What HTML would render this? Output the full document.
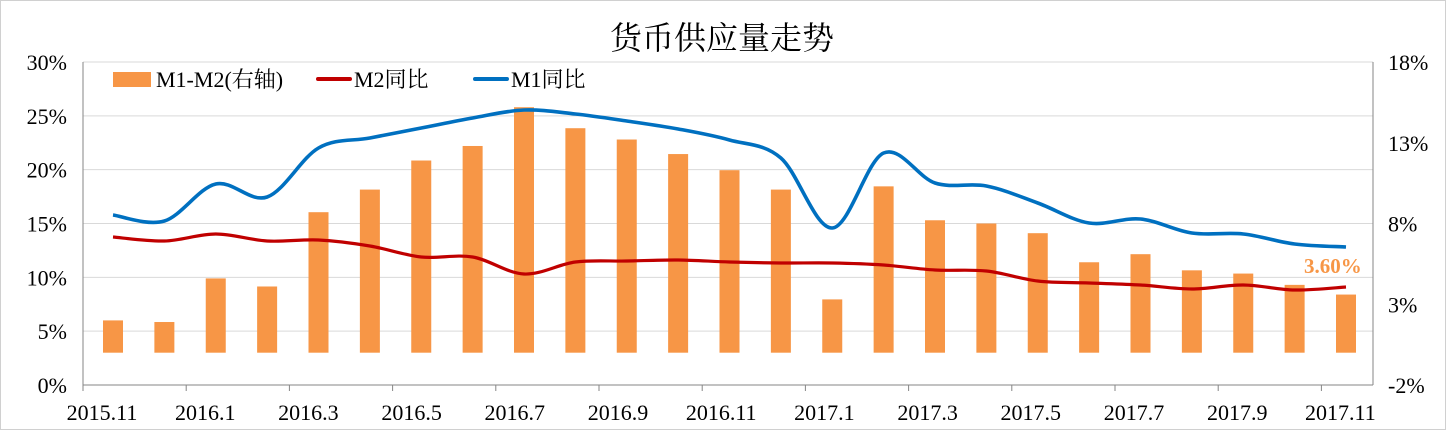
<!DOCTYPE html>
<html><head><meta charset="utf-8"><style>
html,body{margin:0;padding:0;background:#fff}
svg{display:block}
text{font-family:"Liberation Serif","Noto Serif CJK SC",serif;fill:#000}
</style></head><body>
<svg id="s" width="1446" height="430" xmlns="http://www.w3.org/2000/svg">
<rect x="0.5" y="0.5" width="1445" height="429" fill="#fff" stroke="#d0d0d0"/>
<text x="722" y="49" font-size="32" text-anchor="middle" font-family="Noto Sans CJK SC, sans-serif">货币供应量走势</text>
<g id="grid" stroke="#d9d9d9" stroke-width="1"></g>
<g id="bars" fill="#f79646"></g>
<g id="axes" stroke="#868686" stroke-width="1"></g>
<g id="lines"></g>
<g id="labels" font-size="22"></g>
<rect x="113" y="72" width="38" height="15" fill="#f79646"/>
<text x="156" y="87" font-size="22">M1-M2(右轴)</text>
<line x1="318" y1="79" x2="350" y2="79" stroke="#c00000" stroke-width="4" stroke-linecap="round"/>
<text x="354" y="87" font-size="22">M2同比</text>
<line x1="475" y1="79" x2="507" y2="79" stroke="#0070c0" stroke-width="4" stroke-linecap="round"/>
<text x="511" y="87" font-size="22">M1同比</text>
<text x="1304" y="273" font-size="21" font-weight="bold" style="fill:#f79646">3.60%</text>
</svg>
<script>
const NS="http://www.w3.org/2000/svg";
function el(p,t,a,txt){const e=document.createElementNS(NS,t);for(const k in a)e.setAttribute(k,a[k]);if(txt)e.textContent=txt;document.getElementById(p).appendChild(e);}
const L=83,R=1373,T=62,B=385;
for(let i=0;i<6;i++){const y=T+i*(B-T)/6;el("grid","line",{x1:L,x2:R,y1:y,y2:y});}
const lv=["30%","25%","20%","15%","10%","5%","0%"],rv=["18%","13%","8%","3%","-2%"];
lv.forEach((t,i)=>el("labels","text",{x:67,y:T+i*(B-T)/6+8,"text-anchor":"end"},t));
rv.forEach((t,i)=>el("labels","text",{x:1388,y:T+i*(B-T)/4+8},t));
const bars=[2.0,1.9,4.6,4.1,8.7,10.1,11.9,12.8,15.2,13.9,13.2,12.3,11.3,10.1,3.3,10.3,8.2,8.0,7.4,5.6,6.1,5.1,4.9,4.2,3.6];
const cx=i=>113+i*51.375, zero=352.7;
bars.forEach((v,i)=>el("bars","rect",{x:cx(i)-10,y:zero-v*16.15,width:20,height:v*16.15}));
el("axes","line",{x1:L,x2:L,y1:T,y2:B});el("axes","line",{x1:R,x2:R,y1:T,y2:B});
el("axes","line",{x1:L,x2:R,y1:B,y2:B});
for(let k=0;k<=12;k++){const x=L+k*(R-L)/12.5;el("axes","line",{x1:x,x2:x,y1:B,y2:B+6});}
const xl=["2015.11","2016.1","2016.3","2016.5","2016.7","2016.9","2016.11","2017.1","2017.3","2017.5","2017.7","2017.9","2017.11"];
xl.forEach((t,k)=>el("labels","text",{x:102+k*103.2,y:420,"text-anchor":"middle"},t));
const m2=[237,241,234,241,240,246,257,257,274,262,261,260,262,263,263,265,270,271,281,283,285,289,285,290,287];
const m1=[215,221,184,197,148,138,128,118,110,114,121,129,140,158,228,153,183,186,203,223,219,233,234,244,247];
function path(ys){const p=ys.map((y,i)=>[cx(i),y]);let d="M"+p[0];for(let i=0;i<p.length-1;i++){const a=p[Math.max(0,i-1)],b=p[i],c=p[i+1],e=p[Math.min(p.length-1,i+2)];const t=6;d+=" C"+(b[0]+(c[0]-a[0])/t)+","+(b[1]+(c[1]-a[1])/t)+" "+(c[0]-(e[0]-b[0])/t)+","+(c[1]-(e[1]-b[1])/t)+" "+c[0]+","+c[1];}return d;}
el("lines","path",{d:path(m2),fill:"none",stroke:"#c00000","stroke-width":3.2});
el("lines","path",{d:path(m1),fill:"none",stroke:"#0070c0","stroke-width":3.6});
</script>
</body></html>
